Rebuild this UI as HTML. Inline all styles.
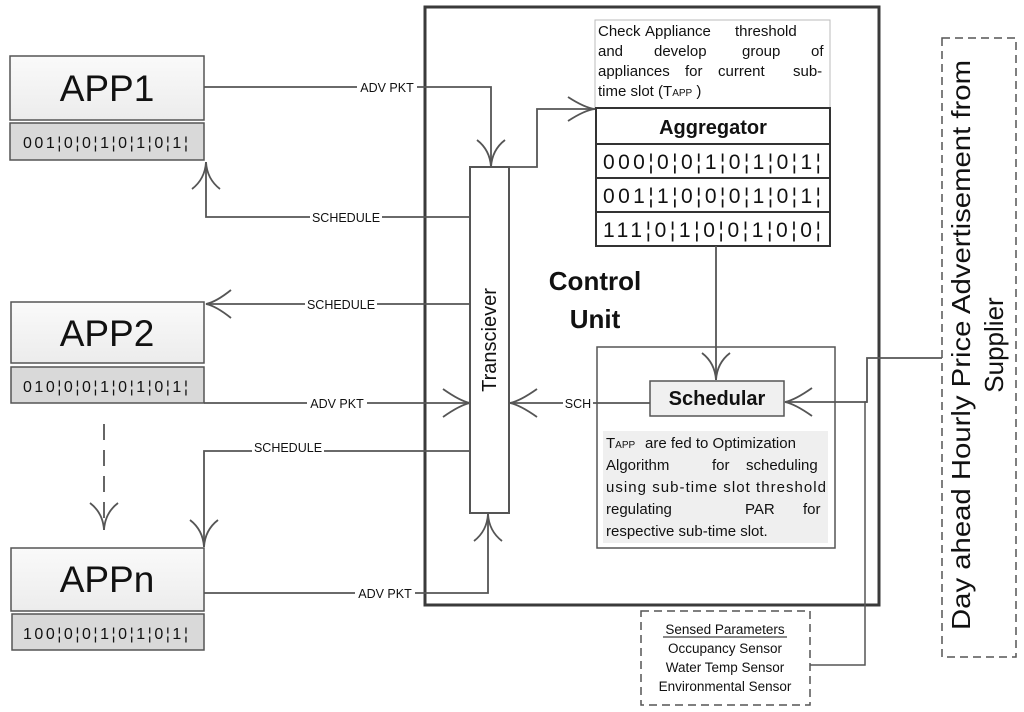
<!DOCTYPE html>
<html><head><meta charset="utf-8"><style>
body{margin:0;background:#fff}
svg{display:block}
text{font-family:"Liberation Sans",sans-serif;fill:#111}
</style></head><body>
<svg width="1024" height="712" viewBox="0 0 1024 712" xmlns="http://www.w3.org/2000/svg">
<defs>
<linearGradient id="g" x1="0" y1="0" x2="0" y2="1"><stop offset="0" stop-color="#fafafa"/><stop offset="1" stop-color="#ececec"/></linearGradient>
</defs>
<rect x="425" y="7" width="454" height="598" fill="none" stroke="#3a3a3a" stroke-width="3"/>
<g stroke="#555" stroke-width="1.5">
<rect x="10" y="56" width="194" height="64" fill="url(#g)"/>
<rect x="10" y="123" width="194" height="37" fill="#d9d9d9"/>
<rect x="11" y="302" width="193" height="61" fill="url(#g)"/>
<rect x="11" y="367" width="193" height="36" fill="#d9d9d9"/>
<rect x="11" y="548" width="193" height="63" fill="url(#g)"/>
<rect x="12" y="614" width="192" height="36" fill="#d9d9d9"/>
</g>
<text x="107" y="101" font-size="37" text-anchor="middle">APP1</text>
<text x="107" y="346" font-size="37" text-anchor="middle">APP2</text>
<text x="107" y="592" font-size="37" text-anchor="middle">APPn</text>
<text x="23" y="148" font-size="16" textLength="165" lengthAdjust="spacing">001¦0¦0¦1¦0¦1¦0¦1¦</text>
<text x="23" y="392" font-size="16" textLength="165" lengthAdjust="spacing">010¦0¦0¦1¦0¦1¦0¦1¦</text>
<text x="23" y="639" font-size="16" textLength="165" lengthAdjust="spacing">100¦0¦0¦1¦0¦1¦0¦1¦</text>

<rect x="470" y="167" width="39" height="346" fill="#fff" stroke="#555" stroke-width="2"/>
<text transform="translate(496,340) rotate(-90)" font-size="20" text-anchor="middle">Transciever</text>

<rect x="595" y="20" width="235" height="88" fill="#fff" stroke="#bbb" stroke-width="1"/>
<text font-size="15"><tspan x="598" y="36">Check</tspan><tspan x="645" y="36">Appliance</tspan><tspan x="735" y="36">threshold</tspan>
<tspan x="598" y="56">and</tspan><tspan x="654" y="56">develop</tspan><tspan x="742" y="56">group</tspan><tspan x="811" y="56">of</tspan>
<tspan x="598" y="76">appliances</tspan><tspan x="685" y="76">for</tspan><tspan x="718" y="76">current</tspan><tspan x="793" y="76">sub-</tspan>
<tspan x="598" y="96">time slot (T<tspan font-size="10">APP</tspan> )</tspan></text>
<g stroke="#333" stroke-width="2" fill="#fff">
<rect x="596" y="108" width="234" height="36"/>
<rect x="596" y="144" width="234" height="34"/>
<rect x="596" y="178" width="234" height="34"/>
<rect x="596" y="212" width="234" height="34"/>
</g>
<text x="713" y="134" font-size="20" font-weight="bold" text-anchor="middle">Aggregator</text>
<text x="603" y="169" font-size="21" textLength="218" lengthAdjust="spacing">000¦0¦0¦1¦0¦1¦0¦1¦</text>
<text x="603" y="203" font-size="21" textLength="218" lengthAdjust="spacing">001¦1¦0¦0¦0¦1¦0¦1¦</text>
<text x="603" y="237" font-size="21" textLength="218" lengthAdjust="spacing">111¦0¦1¦0¦0¦1¦0¦0¦</text>

<text x="595" y="290" font-size="26" font-weight="bold" text-anchor="middle">Control</text>
<text x="595" y="328" font-size="26" font-weight="bold" text-anchor="middle">Unit</text>

<rect x="597" y="347" width="238" height="201" fill="#fff" stroke="#555" stroke-width="1.5"/>
<rect x="650" y="381" width="134" height="35" fill="#f0f0f0" stroke="#555" stroke-width="1.5"/>
<text x="717" y="405" font-size="20" font-weight="bold" text-anchor="middle">Schedular</text>
<rect x="603" y="431" width="225" height="112" fill="#efefef"/>
<text font-size="15"><tspan x="606" y="448">T<tspan font-size="10">APP</tspan></tspan><tspan x="645" y="448">are fed to Optimization</tspan>
<tspan x="606" y="470">Algorithm</tspan><tspan x="712" y="470">for</tspan><tspan x="746" y="470">scheduling</tspan>
<tspan x="606" y="492" textLength="220" lengthAdjust="spacing">using sub-time slot threshold</tspan>
<tspan x="606" y="514">regulating</tspan><tspan x="745" y="514">PAR</tspan><tspan x="803" y="514">for</tspan>
<tspan x="606" y="536">respective sub-time slot.</tspan></text>

<rect x="641" y="611" width="169" height="94" fill="#fff" stroke="#555" stroke-width="1.5" stroke-dasharray="8,5"/>
<text font-size="13.5" text-anchor="middle"><tspan x="725" y="634">Sensed Parameters</tspan><tspan x="725" y="653">Occupancy Sensor</tspan><tspan x="725" y="672">Water Temp Sensor</tspan><tspan x="725" y="691">Environmental Sensor</tspan></text>
<line x1="663" y1="637" x2="787" y2="637" stroke="#111" stroke-width="1"/>

<rect x="942" y="38" width="74" height="619" fill="#fff" stroke="#555" stroke-width="1.5" stroke-dasharray="8,5"/>
<text transform="translate(970,345) rotate(-90)" font-size="26" text-anchor="middle" textLength="570" lengthAdjust="spacingAndGlyphs">Day ahead Hourly Price Advertisement from</text>
<text transform="translate(1003,345) rotate(-90)" font-size="26" text-anchor="middle">Supplier</text>

<g stroke="#555" stroke-width="1.8" fill="none">
<polyline points="204,87 491,87 491,167"/>
<polyline points="470,217 206,217 206,162"/>
<polyline points="509,167 537,167 537,109 595,109"/>
<polyline points="470,304 206,304"/>
<polyline points="204,403 470,403"/>
<polyline points="470,451 204,451 204,547"/>
<polyline points="204,593 488,593 488,514"/>
<line x1="104" y1="424" x2="104" y2="530" stroke-dasharray="16,10"/>
<line x1="716" y1="246" x2="716" y2="380"/>
<line x1="650" y1="403" x2="510" y2="403"/>
<polyline points="942,358 867,358 867,402 785,402"/>
<polyline points="867,402 865,402 865,665 810,665" stroke-width="1.5"/>
<path d="M477,140 Q490,150 491,167 Q492,150 505,140"/>
<path d="M192,189 Q205,179 206,162 Q207,179 220,189"/>
<path d="M568,97 Q585,108 595,109 Q585,110 568,121"/>
<path d="M231,290 Q216,302 206,304 Q216,306 231,318"/>
<path d="M443,389 Q460,401 470,403 Q460,405 443,417"/>
<path d="M190,520 Q203,530 204,547 Q205,530 218,520"/>
<path d="M90,503 Q103,513 104,530 Q105,513 118,503"/>
<path d="M474,541 Q487,531 488,514 Q489,531 502,541"/>
<path d="M702,353 Q715,363 716,380 Q717,363 730,353"/>
<path d="M537,389 Q520,401 510,403 Q520,405 537,417"/>
<path d="M812,388 Q795,400 785,402 Q795,404 812,416"/>
</g>
<g font-size="12.5" text-anchor="middle">
<rect x="357" y="80" width="60" height="14" fill="#fff"/><text x="387" y="92">ADV PKT</text>
<rect x="310" y="210" width="72" height="14" fill="#fff"/><text x="346" y="222">SCHEDULE</text>
<rect x="305" y="297" width="72" height="14" fill="#fff"/><text x="341" y="309">SCHEDULE</text>
<rect x="307" y="396" width="60" height="14" fill="#fff"/><text x="337" y="408">ADV PKT</text>
<rect x="252" y="441" width="72" height="14" fill="#fff"/><text x="288" y="452">SCHEDULE</text>
<rect x="355" y="586" width="60" height="14" fill="#fff"/><text x="385" y="598">ADV PKT</text>
<rect x="563" y="396" width="30" height="14" fill="#fff"/><text x="578" y="408">SCH</text>
</g>
</svg>
</body></html>
